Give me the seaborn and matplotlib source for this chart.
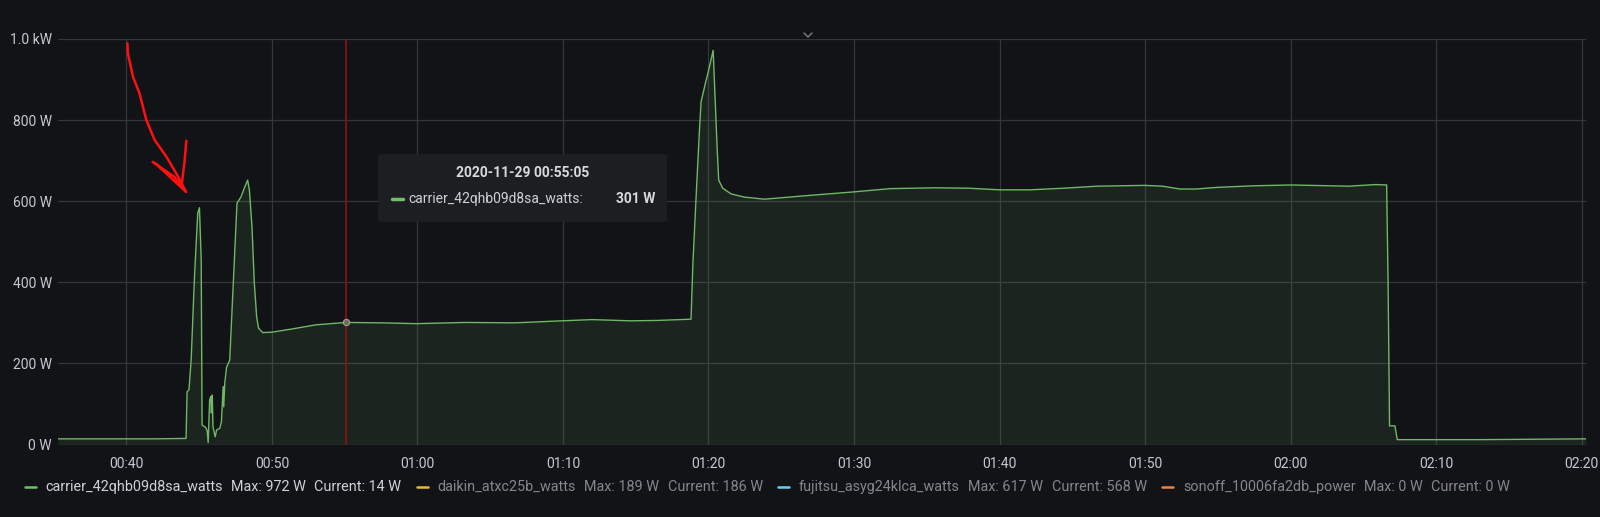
import matplotlib
matplotlib.use('Agg')
import pandas as pd
import seaborn as sns
import matplotlib.pyplot as plt
import matplotlib.dates as mdates
from matplotlib.patches import FancyBboxPatch
from matplotlib.lines import Line2D

# carrier_42qhb09d8sa_watts, minutos depois de 00:00 em 2020-11-29
minutes = [35.3, 38.0, 42.0, 44.1, 44.17, 44.3, 44.45, 44.68, 44.9, 45.02,
           45.14, 45.2, 45.45, 45.55, 45.62, 45.72, 45.8, 45.84, 45.9, 45.95,
           46.1, 46.2, 46.42, 46.53, 46.65, 46.69, 46.76, 46.88, 47.1, 47.42,
           47.6, 47.88, 48.1, 48.33, 48.45, 48.63, 48.79, 48.95, 49.08, 49.36,
           50.0, 51.4, 53.0, 55.08, 57.6, 59.9, 63.3, 66.7, 69.9, 72.0,
           74.7, 76.5, 78.8, 78.93, 79.15, 79.38, 79.49, 79.73, 80.07, 80.32,
           80.45, 80.59, 80.7, 80.98, 81.55, 82.47, 83.84, 85.2, 86.5, 90.0,
           92.5, 95.6, 97.9, 100.0, 102.1, 104.4, 106.7, 110.0, 111.2, 112.4,
           113.5, 114.9, 117.5, 120.0, 124.0, 125.85, 126.6, 126.7, 126.8, 127.17,
           127.33, 133.0, 140.3]
watts = [14, 14, 14, 15, 130, 135, 208, 414, 570, 584,
         455, 48, 42, 34, 5, 110, 118, 78, 122, 44,
         19, 36, 40, 56, 143, 93, 151, 190, 208, 455,
         595, 611, 632, 652, 628, 537, 398, 315, 287, 276,
         277, 285, 295, 301, 300, 298, 301, 300, 305, 308,
         305, 306, 309, 447, 611, 776, 845, 882, 932, 972,
         858, 734, 652, 632, 618, 610, 605, 609, 613, 623,
         631, 633, 632, 628, 628, 632, 637, 639, 637, 630,
         630, 634, 638, 640, 637, 641, 640, 397, 46, 46,
         12, 12, 14]

x_start, x_end = 35.3, 140.3
y_ticks = [0, 200, 400, 600, 800, 1000]
y_labels = ['0 W', '200 W', '400 W', '600 W', '800 W', '1.0 kW']

hover_min = 55 + 5 / 60
hover_watts = 301
hover_title = '2020-11-29 00:55:05'

legend_names = ['carrier_42qhb09d8sa_watts', 'daikin_atxc25b_watts',
                'fujitsu_asyg24klca_watts', 'sonoff_10006fa2db_power']
legend_max = [972, 189, 617, 0]
legend_current = [14, 186, 568, 0]
legend_colors = ['#73BF69', '#EAB839', '#6ED0E0', '#EF843C']

# seta vermelha desenhada a mao
arrow_min = [40.07, 40.1, 40.45, 40.9, 41.37, 41.94, 42.74, 43.42, 44.1]
arrow_w = [989, 965, 907, 866, 800, 751, 710, 669, 623]
head1_min = [41.8, 43.3, 44.1, 42.0]
head1_w = [697, 660, 623, 693]
head2_min = [43.8, 44.0, 44.12]
head2_w = [640, 700, 749]

bg = '#121317'
grid = '#35363b'
text_col = '#c7c7cf'

base = pd.Timestamp('2020-11-29')


def to_time(m):
    return base + pd.to_timedelta(m, unit='min')


df = pd.DataFrame({'time': to_time(pd.Series(minutes)), 'watts': watts})

sns.set_style('dark', {'axes.facecolor': bg, 'figure.facecolor': bg})
plt.rcParams['font.family'] = ['Roboto', 'DejaVu Sans']

fig = plt.figure(figsize=(16, 5.17), dpi=100)
ax = fig.add_axes([0.03625, 0.1402, 0.955, 0.7844])
ax.set_facecolor(bg)

sns.lineplot(data=df, x='time', y='watts', ax=ax, color='#6fb866',
             linewidth=1.0, estimator=None)
ax.fill_between(df['time'], df['watts'], color='#73BF69', alpha=0.1, lw=0)

ax.set_xlim(to_time(x_start), to_time(x_end))
ax.set_ylim(0, 1000)
ax.set_yticks(y_ticks)
ax.set_yticklabels(y_labels)
ax.xaxis.set_major_locator(mdates.MinuteLocator(byminute=range(0, 60, 10)))
ax.xaxis.set_major_formatter(mdates.DateFormatter('%H:%M'))
ax.grid(True, color=grid, lw=0.9)
ax.set_axisbelow(True)
for s in ax.spines.values():
    s.set_visible(False)
ax.tick_params(axis='both', length=0, labelsize=10, colors=text_col)
ax.tick_params(axis='x', pad=9)
ax.tick_params(axis='y', pad=4.5)
ax.set_xlabel('')
ax.set_ylabel('')

# crosshair do hover
ax.axvline(to_time(hover_min), color='#8b0f14', lw=1.3, zorder=3)
ax.plot([to_time(hover_min)], [hover_watts], 'o', ms=4.5, mfc='#6d6d5a',
        mec='#a0a08a', mew=0.8, zorder=4)

# seta
for am, aw in [(arrow_min, arrow_w), (head1_min, head1_w), (head2_min, head2_w)]:
    ax.plot(to_time(pd.Series(am)), aw, color='#ff1010', lw=1.8,
            solid_capstyle='round', solid_joinstyle='round', zorder=5)

W, H = 1600, 517


def fx(px):
    return px / W


def fy(py):
    return 1 - py / H


# tooltip
box = FancyBboxPatch((fx(378), fy(222)), fx(667) - fx(378), fy(154) - fy(222),
                     boxstyle='round,pad=0,rounding_size=0.004',
                     transform=fig.transFigure, facecolor='#1d1e22',
                     edgecolor='none', zorder=10)
fig.patches.append(box)
fig.text(fx(523), fy(173), hover_title, ha='center', va='center',
         fontsize=10, fontweight='bold', color='#d8d9da', zorder=11)
fig.lines.append(Line2D([fx(392), fx(403)], [fy(198.5), fy(198.5)],
                        transform=fig.transFigure, color='#73BF69', lw=2.5,
                        solid_capstyle='round', zorder=11))
fig.text(fx(408), fy(198.5), legend_names[0] + ':', ha='left', va='center',
         fontsize=10, color='#d0d0d8', zorder=11)
fig.text(fx(655), fy(198.5), f'{hover_watts} W', ha='right', va='center',
         fontsize=10, fontweight='bold', color='#d8d9da', zorder=11)

# chevron no topo
fig.lines.append(Line2D([fx(804), fx(808), fx(812)], [fy(33), fy(37), fy(33)],
                        transform=fig.transFigure, color='#7d7d82', lw=1.0))

# legenda embaixo
fig.canvas.draw()
renderer = fig.canvas.get_renderer()
leg_y = fy(487)
x = 24.5
for i, name in enumerate(legend_names):
    col = '#d0d0d8' if i == 0 else '#85858c'
    fig.lines.append(Line2D([fx(x), fx(x + 11)], [leg_y, leg_y],
                            transform=fig.transFigure, color=legend_colors[i],
                            lw=1.8))
    x += 20.5
    for piece in [name, f'Max: {legend_max[i]} W',
                  f'Current: {legend_current[i]} W']:
        t = fig.text(fx(x), leg_y, piece, ha='left', va='center',
                     fontsize=10.4, color=col)
        x += t.get_window_extent(renderer).width + 8.5
    x += 7

fig.savefig('out.png', dpi=100, facecolor=bg)
